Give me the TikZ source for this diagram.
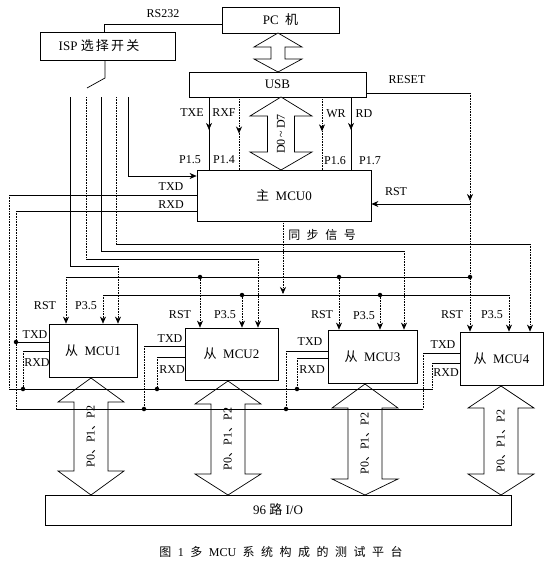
\documentclass[tikz,border=0pt]{standalone}
\usepackage{fontspec}
\setmainfont{Liberation Serif}
\newfontfamily\cjk{Noto Sans CJK SC}
\usetikzlibrary{arrows.meta,decorations.markings}
\newcommand\mydblarrow[7]{%
  \filldraw[fill=white, line width=0.7pt] (#1,#2) -- ({#1+#6},#3) -- ({#1+#7},#3) -- ({#1+#7},#4) -- ({#1+#6},#4) -- (#1,#5) -- ({#1-#6},#4) -- ({#1-#7},#4) -- ({#1-#7},#3) -- ({#1-#6},#3) -- cycle;}
\newcommand\cs{\hspace{6.5pt}}
\begin{document}
\begin{tikzpicture}[x=1pt,y=-1pt,
  box/.style={draw, line width=0.8pt, inner sep=0pt, fill=white, font=\fontsize{13}{15}\selectfont},
  wire/.style={line width=0.7pt},
  thin wire/.style={line width=0.5pt},
  dwire/.style={line width=0.6pt, densely dotted},
  tip/.style={-{Stealth[length=7pt,width=6pt]}},
  lbl/.style={font=\fontsize{12}{13}\selectfont, inner sep=0pt},
  jdot/.style={circle, fill, inner sep=0pt, minimum size=4.5pt},
  midarrow/.style={postaction={decorate}, decoration={markings, mark=at position #1 with {\arrow{Stealth[length=7pt,width=6pt]}}}},
]
\useasboundingbox (0,0) rectangle (549,562);

% ---------- boxes ----------
\node[box, minimum width=117pt, minimum height=26pt] (pc) at (280.5,20) {PC\ \ {\cjk 机}};
\node[box, minimum width=135pt, minimum height=28pt] (isp) at (107.5,46) {};
\node[font=\fontsize{13}{15}\selectfont] at (99,46) {ISP {\cjk 选\,择\,开\,关}};
\node[box, minimum width=177pt, minimum height=25pt] (usb) at (277.5,84.5) {USB};
\node[box, minimum width=174pt, minimum height=51pt] (mcu0) at (284,195.5) {{\cjk 主}\ \ MCU0};
\node[box, minimum width=88pt, minimum height=53pt] (mcu1) at (93,350.5) {{\cjk 从}\ \ MCU1};
\node[box, minimum width=93pt, minimum height=52pt] (mcu2) at (231.5,354) {{\cjk 从}\ \ MCU2};
\node[box, minimum width=89pt, minimum height=53pt] (mcu3) at (372.5,356.5) {{\cjk 从}\ \ MCU3};
\node[box, minimum width=83pt, minimum height=53pt] (mcu4) at (501.5,358.5) {{\cjk 从}\ \ MCU4};
\node[box, minimum width=466pt, minimum height=30pt] (io) at (278,510) {96\ {\cjk 路}\ I/O};

% ---------- double arrows ----------
\mydblarrow{278}{33}{47}{59}{72}{24}{7}
\mydblarrow{281}{97}{116}{152}{170}{31}{13.5}
\node[lbl, rotate=90] (dlab) at (281,134) {D0\,\textasciitilde\,D7};
\mydblarrow{91}{378}{402}{471}{495}{33}{17}
\mydblarrow{228}{381}{404}{474}{495}{33}{17}
\mydblarrow{365}{384}{408}{479}{495}{33}{17}
\mydblarrow{501}{386}{408}{474}{495}{33}{17}
\node[lbl, rotate=90] (p1) at (91,436.5) {P0{\cjk 、}P1{\cjk 、}P2};
\node[lbl, rotate=90] (p2) at (228,439) {P0{\cjk 、}P1{\cjk 、}P2};
\node[lbl, rotate=90] (p3) at (365,443.5) {P0{\cjk 、}P1{\cjk 、}P2};
\node[lbl, rotate=90] (p4) at (501,441) {P0{\cjk 、}P1{\cjk 、}P2};

% ---------- PC / ISP ----------
\coordinate (rsA) at (104,24);
\draw[wire] (pc.west |- rsA) -- (rsA) -- (rsA |- isp.north);
\node[lbl] (rs232) at (163,14) {RS232};
\coordinate (swA) at (105,78);
\coordinate (swB) at (87,88);
\draw[wire] (isp.south -| swA) -- (swA) -- (swB);

% ---------- switch output lines ----------
\coordinate (s1) at (70,97);  \coordinate (s1b) at (70,266);  \coordinate (s1c) at (118,266);
\coordinate (s2) at (86,97);  \coordinate (s2b) at (86,259);  \coordinate (s2c) at (258,259);
\coordinate (s3) at (101,97); \coordinate (s3b) at (101,251); \coordinate (s3c) at (404,251);
\coordinate (s4) at (116,97); \coordinate (s4b) at (116,244); \coordinate (s4c) at (530,244);
\coordinate (s5) at (128,97); \coordinate (s5b) at (128,176);
\draw[thin wire] (s1) -- (s1b) -- (s1c);
\draw[dwire, tip] (s1c) -- (s1c |- mcu1.north);
\draw[dwire] (s2) -- (s2b);
\draw[thin wire] (s2b) -- (s2c);
\draw[dwire, tip] (s2c) -- (s2c |- mcu2.north);
\draw[thin wire] (s3) -- (s3b) -- (s3c);
\draw[dwire, tip] (s3c) -- (s3c |- mcu3.north);
\draw[dwire] (s4) -- (s4b);
\draw[thin wire] (s4b) -- (s4c);
\draw[dwire, tip] (s4c) -- (s4c |- mcu4.north);
\draw[thin wire, tip] (s5) -- (s5b) -- (s5b -| mcu0.west);

% ---------- USB to MCU0 control lines ----------
\coordinate (txe) at (209,0); \coordinate (rxf) at (239,0);
\coordinate (wr) at (322,0);  \coordinate (rd) at (351,0);
\draw[thin wire, midarrow=0.45] (usb.south -| txe) -- (mcu0.north -| txe);
\draw[dwire, midarrow=0.5] (usb.south -| rxf) -- (mcu0.north -| rxf);
\draw[dwire, midarrow=0.47] (usb.south -| wr) -- (mcu0.north -| wr);
\draw[thin wire, midarrow=0.45] (usb.south -| rd) -- (mcu0.north -| rd);
\node[lbl] (ltxe) at (192,113) {TXE};
\node[lbl] (lrxf) at (224,113) {RXF};
\node[lbl] (lwr) at (336,114) {WR};
\node[lbl] (lrd) at (364,114) {RD};
\node[lbl] (l15) at (190,160) {P1.5};
\node[lbl] (l14) at (224,160) {P1.4};
\node[lbl] (l16) at (335,161) {P1.6};
\node[lbl] (l17) at (370,161) {P1.7};

% ---------- RESET / RST ----------
\coordinate (rsT) at (470,93);
\coordinate (rsM) at (470,201);
\coordinate (rsJ) at (470,204);
\coordinate (rstbusR) at (470,277);
\draw[wire] (usb.east |- rsT) -- (rsT);
\draw[dwire, tip] (rsT) -- (rsM);
\draw[dwire, tip] (rsM) -- (rsM |- mcu4.north);
\draw[wire, tip] (rsJ) -- (rsJ -| mcu0.east);
\node[lbl] (lreset) at (407,80) {RESET};
\node[lbl] (lrst0) at (396,192) {RST};

% RST bus
\coordinate (rstbusL) at (66,277);
\coordinate (r2) at (200,277);
\coordinate (r3) at (339,277);
\draw[wire] (rstbusL) -- (rstbusR);
\draw[dwire, tip] (rstbusL) -- (rstbusL |- mcu1.north);
\draw[dwire, tip] (r2) -- (r2 |- mcu2.north);
\draw[dwire, tip] (r3) -- (r3 |- mcu3.north);
\node[jdot] at (r2) {};
\node[jdot] at (r3) {};
\node[jdot] at (rstbusR) {};

% P3.5 bus
\coordinate (pbusL) at (103,295);
\coordinate (q2) at (242,295);
\coordinate (q3) at (380,295);
\coordinate (pbusR) at (509,295);
\draw[wire] (pbusL) -- (pbusR);
\draw[dwire, tip] (pbusL) -- (pbusL |- mcu1.north);
\draw[dwire, tip] (q2) -- (q2 |- mcu2.north);
\draw[dwire, tip] (q3) -- (q3 |- mcu3.north);
\draw[dwire, tip] (pbusR) -- (pbusR |- mcu4.north);
\node[jdot] at (q2) {};
\node[jdot] at (q3) {};

% sync signal
\coordinate (sy) at (283,0);
\coordinate (syE) at (283,294);
\draw[dwire, tip] (mcu0.south -| sy) -- (syE);
\node[font=\fontsize{12}{13}\selectfont, inner sep=0pt] (lsync) at (322,235) {{\cjk 同\cs 步\cs 信\cs 号}};

% top labels at slaves
\node[lbl] at (45,306) {RST};  \node[lbl] at (86,306) {P3.5};
\node[lbl] at (180,315) {RST}; \node[lbl] at (225,315) {P3.5};
\node[lbl] at (322,315) {RST}; \node[lbl] at (364,316) {P3.5};
\node[lbl] at (452,315) {RST}; \node[lbl] at (492,315) {P3.5};

% ---------- serial lines ----------
\coordinate (mtx) at (9,195);  \coordinate (mtxB) at (9,389);  \coordinate (mtxE) at (432,389);
\coordinate (mrx) at (16,211); \coordinate (mrxB) at (16,409); \coordinate (mrxE) at (423,409);
\draw[wire] (mtx -| mcu0.west) -- (mtx);
\draw[dwire] (mtx) -- (mtxB);
\draw[wire] (mtxB) -- (mtxE);
\draw[wire] (mrx -| mcu0.west) -- (mrx);
\draw[dwire] (mrx) -- (mrxB);
\draw[wire] (mrxB) -- (mrxE);
\node[lbl] at (171,187) {TXD};
\node[lbl] at (171,205) {RXD};

% MCU1
\coordinate (t1) at (16,342); \coordinate (x1) at (23,351); \coordinate (x1b) at (23,389);
\draw[wire] (t1 -| mcu1.west) -- (t1);
\draw[wire] (x1 -| mcu1.west) -- (x1);
\draw[dwire] (x1) -- (x1b);
\node[jdot] at (t1) {}; \node[jdot] at (x1b) {};
\node[lbl] at (35,335) {TXD}; \node[lbl] at (37,363) {RXD};
% MCU2
\coordinate (t2) at (144,346); \coordinate (t2b) at (144,409);
\coordinate (x2) at (157,357); \coordinate (x2b) at (157,389);
\draw[wire] (t2 -| mcu2.west) -- (t2);
\draw[dwire] (t2) -- (t2b);
\draw[wire] (x2 -| mcu2.west) -- (x2);
\draw[dwire] (x2) -- (x2b);
\node[jdot] at (t2b) {}; \node[jdot] at (x2b) {};
\node[lbl] at (170,339) {TXD}; \node[lbl] at (172,370) {RXD};
% MCU3
\coordinate (t3) at (286,351); \coordinate (t3b) at (286,409);
\coordinate (x3) at (297,358); \coordinate (x3b) at (297,389);
\draw[wire] (t3 -| mcu3.west) -- (t3);
\draw[dwire] (t3) -- (t3b);
\draw[wire] (x3 -| mcu3.west) -- (x3);
\draw[dwire] (x3) -- (x3b);
\node[jdot] at (t3b) {}; \node[jdot] at (x3b) {};
\node[lbl] at (310,342) {TXD}; \node[lbl] at (312,370) {RXD};
% MCU4
\coordinate (t4) at (423,353);
\coordinate (x4) at (432,363);
\draw[wire] (t4 -| mcu4.west) -- (t4);
\draw[dwire] (t4) -- (mrxE);
\draw[wire] (x4 -| mcu4.west) -- (x4);
\draw[dwire] (x4) -- (mtxE);
\node[lbl] at (443,345) {TXD}; \node[lbl] at (446,373) {RXD};

% ---------- caption ----------
\node[font=\fontsize{12}{14}\selectfont] (cap) at (281,552) {{\cjk 图}\cs 1\cs{\cjk 多}\cs MCU\cs{\cjk 系\cs 统\cs 构\cs 成\cs 的\cs 测\cs 试\cs 平\cs 台}};
\end{tikzpicture}
\end{document}
